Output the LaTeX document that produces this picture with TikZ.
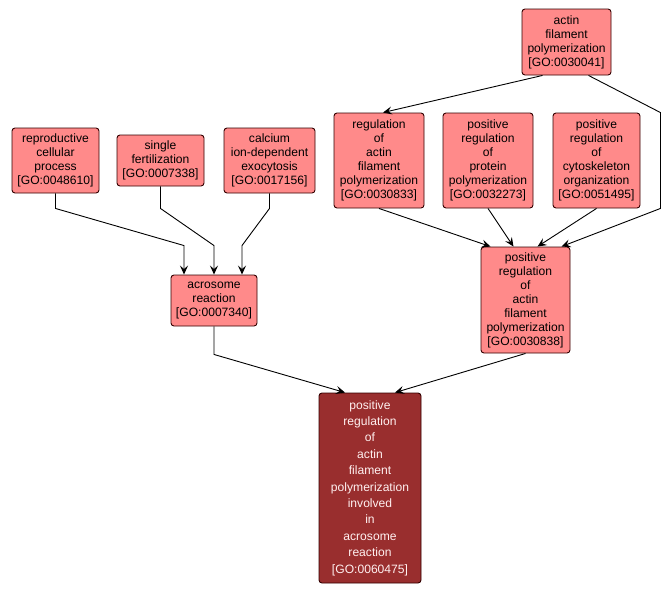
\documentclass[tikz,border=0pt]{standalone}
\usepackage{fontspec}
\setmainfont{Liberation Sans}
\usetikzlibrary{arrows.meta}
\definecolor{termfill}{HTML}{FF8A8A}
\definecolor{targetfill}{HTML}{992E2E}
\tikzset{
    %Define standard arrow tip
    >={Stealth[length=9pt,width=8pt,inset=3.5pt]},
    x=1pt, y=-1pt,
    termbox/.style={
      rectangle,
      rounded corners=3pt,
      draw=black!80!red, line width=0.9pt,
      fill=termfill,
      inner sep=0pt,
      align=center,
      font=\fontsize{12.1}{14}\selectfont},
    targetbox/.style={
      termbox,
      fill=targetfill,
      text=red!6!white,
      font=\fontsize{12.1}{16.4}\selectfont},
    isa/.style={
      ->, line width=0.9pt, draw=black},
}
\begin{document}
\begin{tikzpicture}
    \useasboundingbox (0,0) rectangle (672,595);
    % upper terms
    \node (repro) [termbox, minimum width=87pt, minimum height=65pt] at (55.5,160.5)
          {reproductive\\cellular\\process\\{[GO:0048610]}};
    \node (single) [termbox, minimum width=87pt, minimum height=51pt] at (160.5,160.5)
          {single\\fertilization\\{[GO:0007338]}};
    \node (calcium) [termbox, minimum width=91pt, minimum height=65pt] at (269.5,160.5)
          {calcium\\ion-dependent\\exocytosis\\{[GO:0017156]}};
    \node (acro) [termbox, minimum width=86pt, minimum height=51pt] at (214,300.5)
          {acrosome\\reaction\\{[GO:0007340]}};
    \node (actin) [termbox, minimum width=89pt, minimum height=66pt] at (566.5,42)
          {actin\\filament\\polymerization\\{[GO:0030041]}};
    \node (regact) [termbox, minimum width=90pt, minimum height=95pt] at (379,160.5)
          {regulation\\of\\actin\\filament\\polymerization\\{[GO:0030833]}};
    \node (protein) [termbox, minimum width=90pt, minimum height=95pt] at (488,160.5)
          {positive\\regulation\\of\\protein\\polymerization\\{[GO:0032273]}};
    \node (cyto) [termbox, minimum width=87pt, minimum height=95pt] at (596.5,160.5)
          {positive\\regulation\\of\\cytoskeleton\\organization\\{[GO:0051495]}};
    \node (posact) [termbox, minimum width=89pt, minimum height=106pt] at (525.5,300)
          {positive\\regulation\\of\\actin\\filament\\polymerization\\{[GO:0030838]}};
    % the term itself
    \node (target) [targetbox, minimum width=102pt, minimum height=190pt] at (370,488)
          {positive\\regulation\\of\\actin\\filament\\polymerization\\involved\\in\\acrosome\\reaction\\{[GO:0060475]}};

    \draw [isa] (repro.south) -- ++(0,15) -- ([xshift=-30pt,yshift=29pt]acro.north)
          -- ([xshift=-30pt]acro.north);
    \draw [isa] (single.south) -- ++(0,22) -- ([yshift=29pt]acro.north) -- (acro.north);
    \draw [isa] (calcium.south) -- ++(0,15) -- ([xshift=28pt,yshift=29pt]acro.north)
          -- ([xshift=28pt]acro.north);
    \draw [isa] (acro.south) -- ++(0,28) -- ([xshift=-25pt]target.north);
    \draw [isa] (posact.south) -- ([xshift=25pt]target.north);
    \draw [isa] ([xshift=-24pt]actin.south) -- ([xshift=4pt]regact.north);
    \draw [isa] ([xshift=22pt]actin.south) -- ([xshift=20pt]cyto.north east)
          -- ([xshift=20pt]cyto.south east) -- ([xshift=36pt]posact.north);
    \draw [isa] (regact.south) -- ([xshift=-35pt]posact.north);
    \draw [isa] (protein.south) -- ([xshift=-12pt]posact.north);
    \draw [isa] (cyto.south) -- ([xshift=12pt]posact.north);
\end{tikzpicture}
\end{document}
